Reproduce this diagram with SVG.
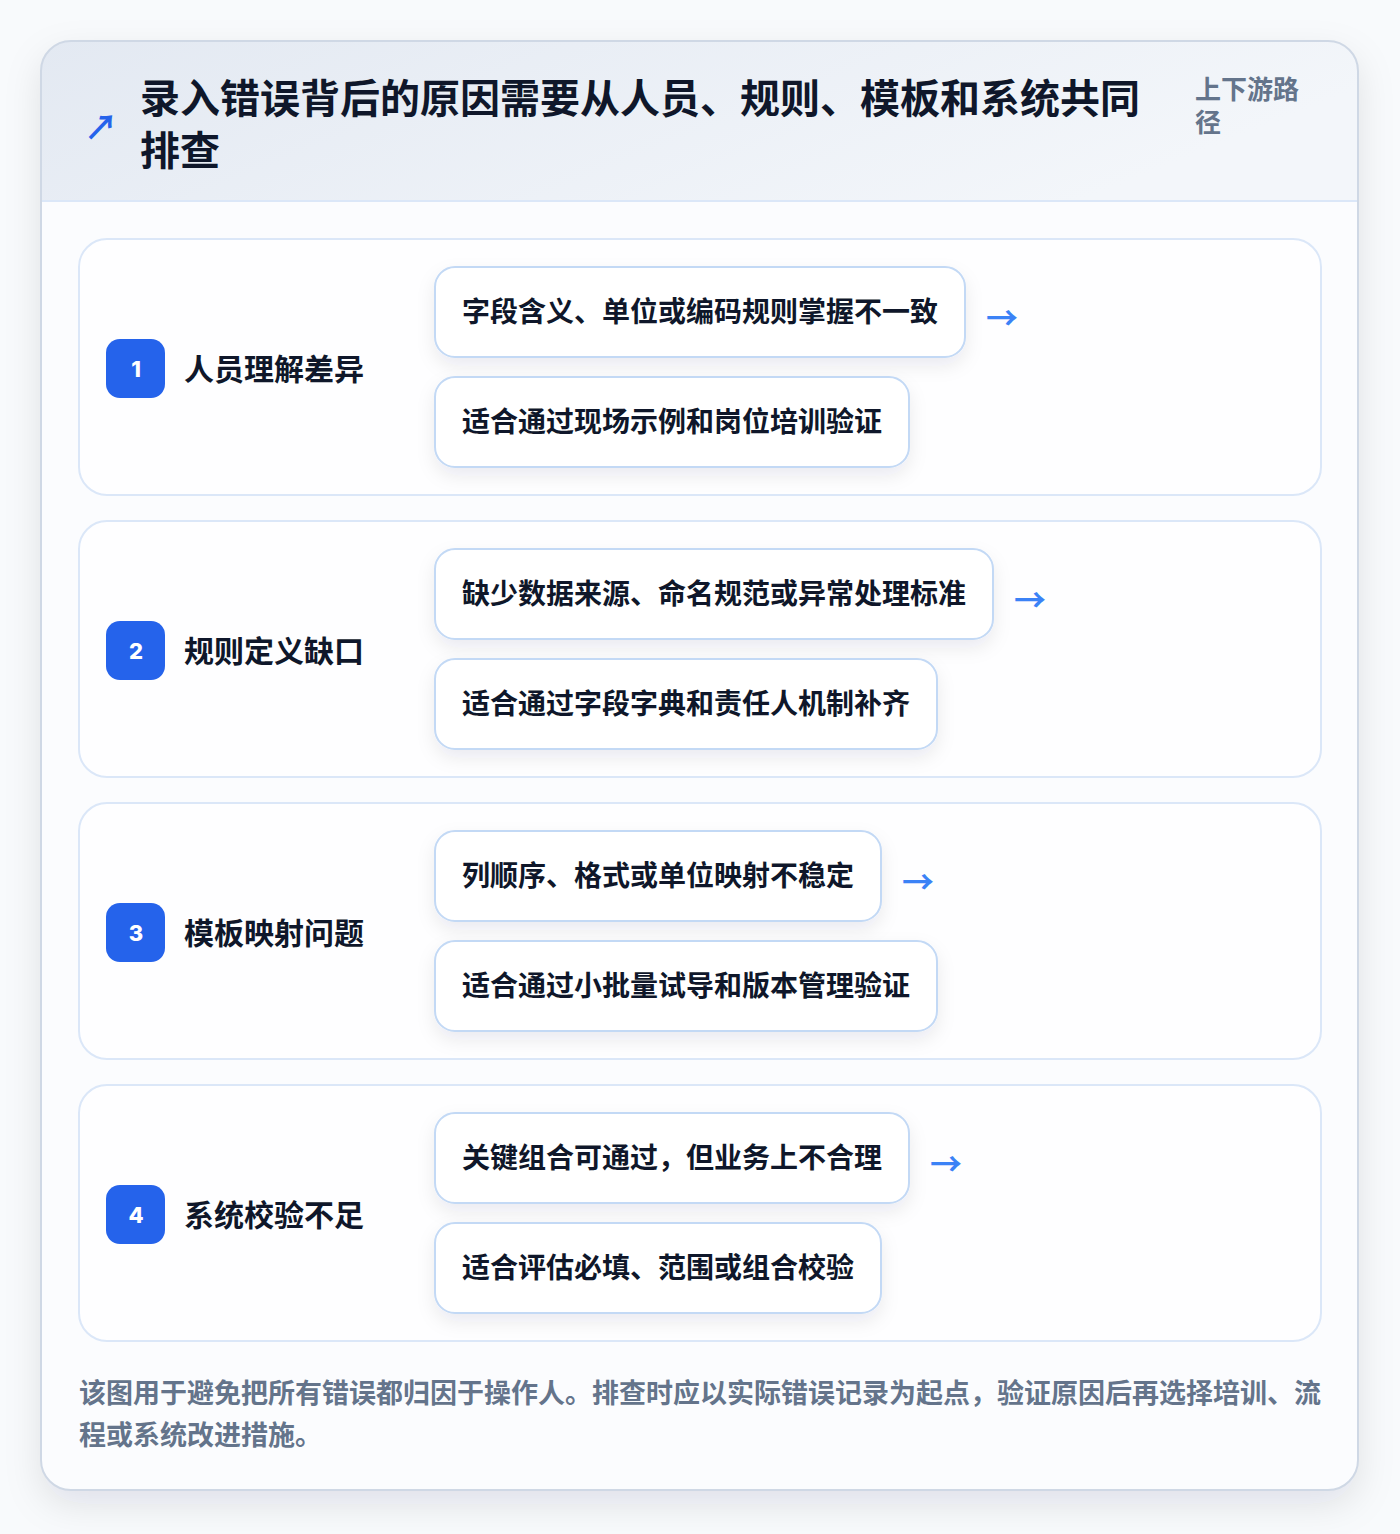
<svg xmlns="http://www.w3.org/2000/svg" width="1400" height="1534" viewBox="0 0 1400 1534">
<defs>
<linearGradient id="hdr" x1="0" y1="0" x2="1" y2="0.3">
<stop offset="0" stop-color="#e3e9f2"/>
<stop offset="1" stop-color="#f3f6fa"/>
</linearGradient>
<filter id="cardShadow" x="-10%" y="-10%" width="120%" height="120%">
<feDropShadow dx="0" dy="14" stdDeviation="18" flood-color="#0f172a" flood-opacity="0.10"/>
</filter>
<filter id="pillShadow" x="-20%" y="-40%" width="140%" height="190%">
<feDropShadow dx="0" dy="8" stdDeviation="9" flood-color="#1e293b" flood-opacity="0.08"/>
</filter>
<clipPath id="outerClip"><rect x="41" y="41" width="1317" height="1449" rx="30"/></clipPath>
<style>
text{font-family:"Noto Sans CJK SC","Noto Sans",sans-serif;font-weight:700}
.title{font-size:40px;fill:#0f172a}
.side{font-size:26px;fill:#64748b}
.row{fill:#fefeff;stroke:#dbe7f8;stroke-width:2}
.badge{fill:#2563eb}
.num{font-family:Inter,"Liberation Sans",sans-serif;font-weight:800;font-size:22px;fill:#ffffff;text-anchor:middle}
.lbl{font-size:30px;fill:#0f172a}
.pill{fill:#ffffff;stroke:#c3d9f5;stroke-width:2}
.ptxt{font-size:28px;fill:#0f172a}
.arr{font-family:"Noto Sans CJK SC",sans-serif;font-weight:700;font-size:32px;fill:#3b82f6}
.icon{font-family:"Noto Sans CJK SC",sans-serif;font-weight:700;font-size:34px;fill:#2563eb}
.foot{font-size:27px;fill:#64748b}
</style>
</defs>
<rect width="1400" height="1534" fill="#f8fafc"/>
<g id="frame">
<rect x="41" y="41" width="1317" height="1449" rx="30" fill="#fbfcfe" filter="url(#cardShadow)"/>
<g clip-path="url(#outerClip)">
<rect x="41" y="41" width="1317" height="160" fill="url(#hdr)"/>
<line x1="41" y1="201" x2="1358" y2="201" stroke="#dbe7f8" stroke-width="2"/>
</g>
<rect x="41" y="41" width="1317" height="1449" rx="30" fill="none" stroke="#cfd8e5" stroke-width="2"/>
</g>
<g id="header">
<text class="icon" x="84" y="140">↗</text>
<text class="title" x="140" y="113">录入错误背后的原因需要从人员、规则、模板和系统共同</text>
<text class="title" x="140" y="165">排查</text>
<text class="side" x="1195" y="99">上下游路</text>
<text class="side" x="1195" y="132">径</text>
</g>
<g id="row1">
<rect class="row" x="79" y="239" width="1242" height="256" rx="28"/>
<rect class="badge" x="106" y="339" width="59" height="59" rx="14"/>
<text class="num" x="136" y="377">1</text>
<text class="lbl" x="184" y="380">人员理解差异</text>
<g id="row1-a"><rect class="pill" x="435" y="267" width="530" height="90" rx="20" filter="url(#pillShadow)"/><text class="ptxt" x="462" y="322">字段含义、单位或编码规则掌握不一致</text></g>
<g id="row1-b"><rect class="pill" x="435" y="377" width="474" height="90" rx="20" filter="url(#pillShadow)"/><text class="ptxt" x="462" y="432">适合通过现场示例和岗位培训验证</text></g>
</g>
<g id="row2">
<rect class="row" x="79" y="521" width="1242" height="256" rx="28"/>
<rect class="badge" x="106" y="621" width="59" height="59" rx="14"/>
<text class="num" x="136" y="659">2</text>
<text class="lbl" x="184" y="662">规则定义缺口</text>
<g id="row2-a"><rect class="pill" x="435" y="549" width="558" height="90" rx="20" filter="url(#pillShadow)"/><text class="ptxt" x="462" y="604">缺少数据来源、命名规范或异常处理标准</text></g>
<g id="row2-b"><rect class="pill" x="435" y="659" width="502" height="90" rx="20" filter="url(#pillShadow)"/><text class="ptxt" x="462" y="714">适合通过字段字典和责任人机制补齐</text></g>
</g>
<g id="row3">
<rect class="row" x="79" y="803" width="1242" height="256" rx="28"/>
<rect class="badge" x="106" y="903" width="59" height="59" rx="14"/>
<text class="num" x="136" y="941">3</text>
<text class="lbl" x="184" y="944">模板映射问题</text>
<g id="row3-a"><rect class="pill" x="435" y="831" width="446" height="90" rx="20" filter="url(#pillShadow)"/><text class="ptxt" x="462" y="886">列顺序、格式或单位映射不稳定</text></g>
<g id="row3-b"><rect class="pill" x="435" y="941" width="502" height="90" rx="20" filter="url(#pillShadow)"/><text class="ptxt" x="462" y="996">适合通过小批量试导和版本管理验证</text></g>
</g>
<g id="row4">
<rect class="row" x="79" y="1085" width="1242" height="256" rx="28"/>
<rect class="badge" x="106" y="1185" width="59" height="59" rx="14"/>
<text class="num" x="136" y="1223">4</text>
<text class="lbl" x="184" y="1226">系统校验不足</text>
<g id="row4-a"><rect class="pill" x="435" y="1113" width="474" height="90" rx="20" filter="url(#pillShadow)"/><text class="ptxt" x="462" y="1168">关键组合可通过，但业务上不合理</text></g>
<g id="row4-b"><rect class="pill" x="435" y="1223" width="446" height="90" rx="20" filter="url(#pillShadow)"/><text class="ptxt" x="462" y="1278">适合评估必填、范围或组合校验</text></g>
</g>
<g id="connectors">
<text class="arr" x="986" y="330">→</text>
<text class="arr" x="1014" y="612">→</text>
<text class="arr" x="902" y="894">→</text>
<text class="arr" x="930" y="1176">→</text>
</g>
<g id="footer">
<text class="foot" x="79" y="1403">该图用于避免把所有错误都归因于操作人。排查时应以实际错误记录为起点，验证原因后再选择培训、流</text>
<text class="foot" x="79" y="1445">程或系统改进措施。</text>
</g>
</svg>
